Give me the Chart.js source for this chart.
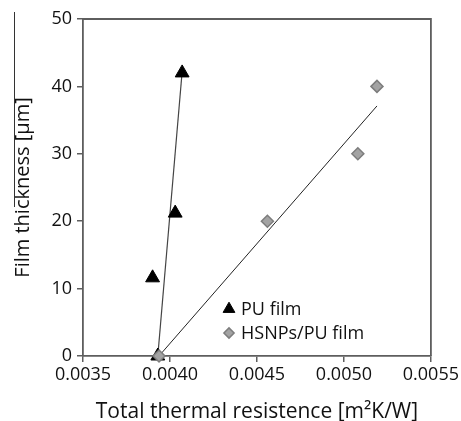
<!DOCTYPE html>
<html>
<head>
<meta charset="UTF-8">
<title>Film thickness vs total thermal resistence</title>
<script src="https://cdn.jsdelivr.net/npm/chart.js@4.4.0/dist/chart.umd.min.js"></script>
<style>
  html, body { margin: 0; padding: 0; background: #fff; }
</style>
</head>
<body>
<canvas id="myChart" width="461" height="421"></canvas>
<script>
  // values
  var seriesNames = ["PU film", "HSNPs/PU film"];
  var puX = [0.00393, 0.00390, 0.00403, 0.00407];
  var puY = [0, 11.6, 21.2, 42.0];
  var hsX = [0.003937, 0.00456, 0.00508, 0.00519];
  var hsY = [0, 20, 30, 40];
  // trend line ends
  var puTrendX = [0.00393, 0.00407];
  var puTrendY = [0, 42.2];
  var hsTrendX = [0.003937, 0.00519];
  var hsTrendY = [0, 37.1];
  var xTicks = [0.0035, 0.0040, 0.0045, 0.0050, 0.0055];
  var yTicks = [0, 10, 20, 30, 40, 50];

  function pts(xs, ys) {
    var out = [];
    for (var i = 0; i < xs.length; i++) out.push({ x: xs[i], y: ys[i] });
    return out;
  }

  var FONT = "'Open Sans', 'DejaVu Sans', sans-serif";
  var axisColor = "#5e5e5e";
  var textColor = "#111";

  // legend inside the plot + frame on top/right
  var extras = {
    id: "extras",
    beforeDatasetsDraw: function(chart) {
      var c = chart.ctx, a = chart.chartArea;
      c.save();
      c.strokeStyle = axisColor;
      c.lineWidth = 1.8;
      c.beginPath();
      c.moveTo(a.left, a.top);
      c.lineTo(a.right, a.top);
      c.lineTo(a.right, a.bottom);
      c.stroke();
      // stray line at the left edge of the figure
      c.strokeStyle = "#333";
      c.lineWidth = 1;
      c.beginPath();
      c.moveTo(14.5, 12);
      c.lineTo(14.5, 207);
      c.stroke();
      c.restore();
    },
    afterDatasetsDraw: function(chart) {
      var c = chart.ctx;
      var rows = [
        { ds: chart.data.datasets[2], y: 309 },
        { ds: chart.data.datasets[3], y: 333 }
      ];
      c.save();
      c.font = "18px " + FONT;
      c.textBaseline = "middle";
      rows.forEach(function(r) {
        var ds = r.ds;
        c.fillStyle = ds.backgroundColor;
        c.strokeStyle = ds.borderColor;
        c.lineWidth = ds.borderWidth;
        Chart.helpers.drawPoint(c, {
          pointStyle: ds.pointStyle,
          radius: ds.pointRadius * 0.85,
          rotation: 0,
          borderWidth: ds.borderWidth
        }, 229, r.y);
        c.fillStyle = textColor;
        c.fillText(ds.label, 241, r.y + 1);
      });
      c.restore();
    }
  };

  new Chart(document.getElementById("myChart"), {
    type: "scatter",
    data: {
      datasets: [
        {
          type: "line", label: "PU trend", data: pts(puTrendX, puTrendY),
          borderColor: "#444", borderWidth: 1.2, pointRadius: 0, fill: false, order: 4, clip: false
        },
        {
          type: "line", label: "HSNPs trend", data: pts(hsTrendX, hsTrendY),
          borderColor: "#222", borderWidth: 1, pointRadius: 0, fill: false, order: 3, clip: false
        },
        {
          label: seriesNames[0], data: pts(puX, puY),
          pointStyle: "triangle", pointRadius: 8, backgroundColor: "#000", borderColor: "#000",
          borderWidth: 1, order: 2, clip: false
        },
        {
          label: seriesNames[1], data: pts(hsX, hsY),
          pointStyle: "rectRot", pointRadius: 6, backgroundColor: "#a3a3a3", borderColor: "#7d7d7d",
          borderWidth: 1.5, order: 1, clip: false
        }
      ]
    },
    options: {
      responsive: false,
      animation: false,
      layout: { padding: { top: 19, right: 28, left: 0, bottom: 0 } },
      plugins: { legend: { display: false }, tooltip: { enabled: false } },
      scales: {
        x: {
          type: "linear", min: xTicks[0], max: xTicks[xTicks.length - 1],
          afterFit: function(s) { s.height = 65; },
          afterBuildTicks: function(s) { s.ticks = xTicks.map(function(v) { return { value: v }; }); },
          ticks: {
            color: textColor, font: { family: FONT, size: 18 }, padding: 2, maxRotation: 0,
            callback: function(v) { return v.toFixed(4); }
          },
          grid: { drawOnChartArea: false, drawTicks: true, tickLength: 6, color: axisColor, lineWidth: 1.5 },
          border: { display: true, color: axisColor, width: 1.8 },
          title: {
            display: true, text: "Total thermal resistence [m\u00B2K/W]", color: textColor,
            font: { family: FONT, size: 21, lineHeight: 1 }, padding: { top: 0, bottom: -2 }
          }
        },
        y: {
          type: "linear", min: yTicks[0], max: yTicks[yTicks.length - 1],
          afterFit: function(s) { s.width = 83; },
          afterBuildTicks: function(s) { s.ticks = yTicks.map(function(v) { return { value: v }; }); },
          ticks: { color: textColor, font: { family: FONT, size: 18 }, padding: 5 },
          grid: { drawOnChartArea: false, drawTicks: true, tickLength: 6, color: axisColor, lineWidth: 1.5 },
          border: { display: true, color: axisColor, width: 1.8 },
          title: {
            display: true, text: "Film thickness [\u03BCm]", color: textColor,
            font: { family: FONT, size: 20, lineHeight: 1 }, padding: { top: 13, bottom: 0 }
          }
        }
      }
    },
    plugins: [extras]
  });
</script>
</body>
</html>
